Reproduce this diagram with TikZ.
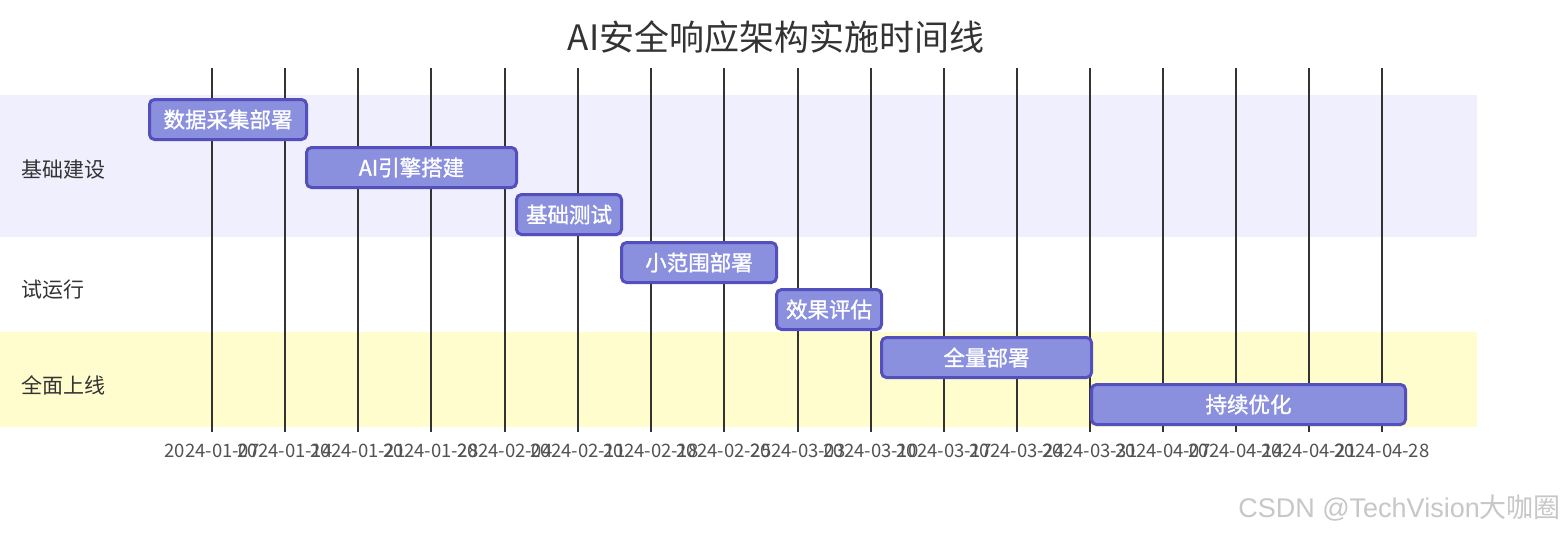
\documentclass[tikz,border=0pt]{standalone}
\usepackage{fontspec}
\setmainfont{Noto Sans CJK SC}
\newfontfamily\barfont{Noto Sans CJK SC}[FakeBold=1.2]
\newfontfamily\wmlatin{Liberation Sans}
\newfontfamily\wmcjk{Noto Sans CJK SC}
\definecolor{secA}{HTML}{EFEFFD}
\definecolor{secC}{HTML}{FFFCCD}
\definecolor{barfill}{HTML}{8A90DD}
\definecolor{barline}{HTML}{534FBC}
\definecolor{gridc}{HTML}{333333}
\definecolor{txt}{HTML}{333333}
\tikzset{
  taskbar/.style={draw=barline, fill=barfill, line width=3pt, rounded corners=5pt,
    minimum height=40pt, inner sep=0pt, anchor=north west, text=white,
    font=\barfont\fontsize{21.5}{23}\selectfont},
  seclabel/.style={anchor=west, text=txt, font=\fontsize{21}{23}\selectfont, inner sep=0pt},
  ticklabel/.style={text=txt!85, font=\fontsize{18.5}{20}\selectfont, inner sep=0pt},
  gridline/.style={draw=gridc, line width=1.3pt},
}
\begin{document}
\begin{tikzpicture}[x=1pt,y=-1pt]
\useasboundingbox (0,0) rectangle (1568,536);
\fill[white] (0,0) rectangle (1568,536);
% section backgrounds
\fill[secA] (0,95) rectangle (1477,237);
\fill[secC] (0,332) rectangle (1477,427);
% grid lines and tick labels
\foreach \x/\d in {212/2024-01-07,285/2024-01-14,358/2024-01-21,431/2024-01-28,505/2024-02-04,578/2024-02-11,651/2024-02-18,724/2024-02-25,798/2024-03-03,871/2024-03-10,944/2024-03-17,1017/2024-03-24,1090/2024-03-31,1163/2024-04-07,1236/2024-04-14,1309/2024-04-21,1382/2024-04-28}{
  \draw[gridline] (\x,68) -- (\x,432);
  \node[ticklabel] (tick\x) at (\x,451) {\d};
}
% title
\node[text=txt, font=\fontsize{35}{38}\selectfont, inner sep=0pt] (title) at (776,37) {AI安全响应架构实施时间线};
% section labels
\node[seclabel] (s1) at (21,170) {基础建设};
\node[seclabel] (s2) at (21,290) {试运行};
\node[seclabel] (s3) at (21,385) {全面上线};
% tasks
\node[taskbar, minimum width=157pt] (t1) at (148,98) {数据采集部署};
\node[taskbar, minimum width=210pt] (t2) at (305,146) {AI引擎搭建};
\node[taskbar, minimum width=105pt] (t3) at (515,193) {基础测试};
\node[taskbar, minimum width=155pt] (t4) at (620,241) {小范围部署};
\node[taskbar, minimum width=105pt] (t5) at (775,288) {效果评估};
\node[taskbar, minimum width=210pt] (t6) at (880,336) {全量部署};
\node[taskbar, minimum width=314pt] (t7) at (1090,383) {持续优化};
% watermark
\node[text=black!22, font=\fontsize{27}{29}\selectfont, anchor=east, inner sep=0pt] (wm) at (1561,508) {{\wmlatin CSDN @TechVision}{\wmcjk 大咖圈}};
\end{tikzpicture}
\end{document}
